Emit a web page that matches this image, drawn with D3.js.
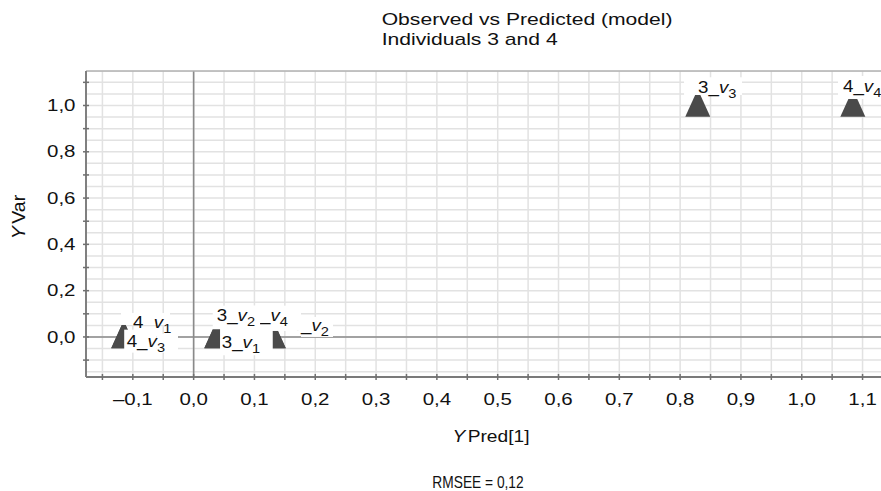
<!DOCTYPE html>
<html>
<head>
<meta charset="utf-8">
<script src="https://cdn.jsdelivr.net/npm/d3@7"></script>
<style>
  html, body { margin: 0; padding: 0; background: #fff; }
  svg { display: block; }
  text { font-family: "Liberation Sans", Arial, Helvetica, sans-serif; fill: #111; }
</style>
</head>
<body>
<svg id="chart" width="881" height="491"></svg>
<script>
// Observations: individual_variable, predicted value, observed value
const pointNames = ["4_v1", "4_v3", "3_v1", "3_v2", "3_v4", "4_v2", "3_v3", "4_v4"];
const predicted  = [-0.115, -0.115, 0.038, 0.038, 0.131, 0.131, 0.829, 1.084];
const observed   = [0, 0, 0, 0, 0, 0, 1.0, 1.0];

const xTickLabels = [-0.1, 0.0, 0.1, 0.2, 0.3, 0.4, 0.5, 0.6, 0.7, 0.8, 0.9, 1.0, 1.1];
const yTickLabels = [0.0, 0.2, 0.4, 0.6, 0.8, 1.0];
const titleLines = ["Observed vs Predicted (model)", "Individuals 3 and 4"];
const rmsee = 0.12;

// Type is drawn slightly wide (horizontal stretch factor).
const WIDE = 1.28;

// Label placement: text start / baseline offsets from the marker, plus the
// white backing rectangles (relative to text start and baseline).
const labelLayout = {
  "4_v2": { dx: 17.3,  dy: -6,    boxes: [[10.4, 42.4, -14, 6]] },
  "3_v4": { dx: -23.7, dy: -16.3, boxes: [[-2, 51.4, -15, 10.3]] },
  "3_v1": { dx: 5,     dy: 11.3,  boxes: [[-1.7, 51, -21.6, 7]] },
  "3_v2": { dx: 0,     dy: -16.3, boxes: [[-4, 43.3, -15, 8.6]] },
  "4_v1": { dx: 9.3,   dy: -9,    boxes: [[-12, 37, -15, -3]] },
  "4_v3": { dx: 3,     dy: 9.7,   boxes: [[-2.5, 30, -17, 6], [30, 51.3, -13, 6]] },
  "3_v3": { dx: 0.3,   dy: -12.2, boxes: [[-14, 44, -16, 1.7]] },
  "4_v4": { dx: -9.8,  dy: -13.5, boxes: [[-5, 50, -16, 7]] }
};
const labelOrder = ["4_v2", "3_v4", "3_v1", "3_v2", "4_v1", "4_v3", "3_v3", "4_v4"];

const svg = d3.select("#chart");
const plot = { left: 86, top: 71, right: 896, bottom: 377 };

const x = d3.scaleLinear().domain([-0.177, 1.155]).range([plot.left, plot.right]);
const y = d3.scaleLinear().domain([-0.173, 1.149]).range([plot.bottom, plot.top]);

const loc = d3.formatLocale({ decimal: ",", thousands: ".", grouping: [3], currency: ["", ""], minus: "\u2013" });
const fmt = loc.format(".1f");

// text helper: positioned by translate, widened horizontally
function wideText(parent, tx, ty, size, anchor, sx) {
  return parent.append("text")
    .attr("transform", `translate(${tx},${ty}) scale(${sx || WIDE},1)`)
    .attr("text-anchor", anchor || "start")
    .style("font-size", size + "px");
}

svg.append("clipPath").attr("id", "plotClip")
  .append("rect")
  .attr("x", plot.left).attr("y", plot.top)
  .attr("width", plot.right - plot.left).attr("height", plot.bottom - plot.top);

const g = svg.append("g").attr("clip-path", "url(#plotClip)");

// grid every 0.05
const xGrid = d3.range(-0.15, 1.16, 0.05).map(v => +v.toFixed(2));
const yGrid = d3.range(-0.15, 1.16, 0.05).map(v => +v.toFixed(2));

g.selectAll("line.vg").data(xGrid).join("line")
  .attr("x1", d => x(d)).attr("x2", d => x(d))
  .attr("y1", plot.top).attr("y2", plot.bottom)
  .attr("stroke", "#e2e2e2").attr("stroke-width", 1.5);

g.selectAll("line.hg").data(yGrid).join("line")
  .attr("x1", plot.left).attr("x2", plot.right)
  .attr("y1", d => y(d)).attr("y2", d => y(d))
  .attr("stroke", "#e2e2e2").attr("stroke-width", 1.5);

// zero lines
g.append("line")
  .attr("x1", x(0)).attr("x2", x(0)).attr("y1", plot.top).attr("y2", plot.bottom)
  .attr("stroke", "#8a8a8a").attr("stroke-width", 1.6);
g.append("line")
  .attr("x1", plot.left).attr("x2", plot.right).attr("y1", y(0)).attr("y2", y(0))
  .attr("stroke", "#8a8a8a").attr("stroke-width", 1.6);

// markers: upward triangles
const triangle = {
  draw(ctx, size) {
    const s = Math.sqrt(size) / 25;
    ctx.moveTo(0, -16.2 * s);
    ctx.lineTo(12.5 * s, 11.3 * s);
    ctx.lineTo(-12.5 * s, 11.3 * s);
    ctx.closePath();
  }
};
const sym = d3.symbol().type(triangle).size(625);

const pts = pointNames.map((n, i) => ({ name: n, px: x(predicted[i]), py: y(observed[i]) }));

g.selectAll("path.mk").data(pts).join("path")
  .attr("class", "mk")
  .attr("transform", d => `translate(${d.px},${d.py})`)
  .attr("d", sym)
  .attr("fill", "#4a4a4a");

// point labels with white backing
const byName = new Map(pts.map(p => [p.name, p]));
labelOrder.forEach(name => {
  const p = byName.get(name);
  const L = labelLayout[name];
  const tx = p.px + L.dx, ty = p.py + L.dy;
  const lg = g.append("g");
  L.boxes.forEach(b => {
    lg.append("rect")
      .attr("x", tx + b[0]).attr("y", ty + b[2])
      .attr("width", b[1] - b[0]).attr("height", b[3] - b[2])
      .attr("fill", "#fff");
  });
  const parts = name.split("_");
  const sub = parts[1].slice(1);
  const t = wideText(lg, tx, ty, 16, "start", 1.17);
  t.append("tspan").text(parts[0] + "_");
  t.append("tspan").style("font-style", "italic").text(parts[1][0]);
  t.append("tspan").attr("dy", 5).style("font-size", "12.5px").text(sub);
});

// frame
svg.append("line").attr("x1", plot.left).attr("x2", plot.right).attr("y1", plot.top).attr("y2", plot.top)
  .attr("stroke", "#b0b0b0").attr("stroke-width", 1.5);
svg.append("line").attr("x1", plot.left).attr("x2", plot.left).attr("y1", plot.top).attr("y2", plot.bottom)
  .attr("stroke", "#808080").attr("stroke-width", 2);
svg.append("line").attr("x1", plot.left).attr("x2", plot.right).attr("y1", plot.bottom).attr("y2", plot.bottom)
  .attr("stroke", "#7a7a7a").attr("stroke-width", 2);

// tick marks crossing the axes
const xTickMarks = d3.range(-0.15, 1.16, 0.05).map(v => +v.toFixed(2));
const yTickMarks = d3.range(-0.1, 1.11, 0.1).map(v => +v.toFixed(2));
svg.selectAll("line.xt").data(xTickMarks).join("line")
  .attr("x1", d => x(d)).attr("x2", d => x(d))
  .attr("y1", plot.bottom - 3).attr("y2", plot.bottom + 3)
  .attr("stroke", "#707070").attr("stroke-width", 1.5);
svg.selectAll("line.yt").data(yTickMarks).join("line")
  .attr("x1", plot.left - 3).attr("x2", plot.left + 3)
  .attr("y1", d => y(d)).attr("y2", d => y(d))
  .attr("stroke", "#707070").attr("stroke-width", 1.5);

// tick labels
const xl = svg.append("g");
xTickLabels.forEach(v => wideText(xl, x(v), 405, 16, "middle").text(fmt(v)));
const yl = svg.append("g");
yTickLabels.forEach(v => wideText(yl, 75.5, y(v) + 5.7, 16, "end").text(fmt(v)));

// axis titles
const xt = wideText(svg, 491, 441.7, 16, "middle", 1.2);
xt.append("tspan").style("font-style", "italic").text("Y");
xt.append("tspan").attr("dx", 2).text("Pred[1]");

const yt = svg.append("text")
  .attr("transform", "translate(25,217) rotate(-90) scale(1.22,1.15)")
  .attr("text-anchor", "middle").style("font-size", "16px");
yt.append("tspan").style("font-style", "italic").text("Y");
yt.append("tspan").attr("dx", 2).text("Var");

// title
wideText(svg, 381.7, 24.5, 16, "start", 1.32).text(titleLines[0]);
wideText(svg, 381.7, 44.5, 16, "start", 1.32).text(titleLines[1]);

// RMSEE footnote
wideText(svg, 478, 488, 16, "middle", 0.86).text("RMSEE = " + loc.format(".2f")(rmsee));
</script>
</body>
</html>
